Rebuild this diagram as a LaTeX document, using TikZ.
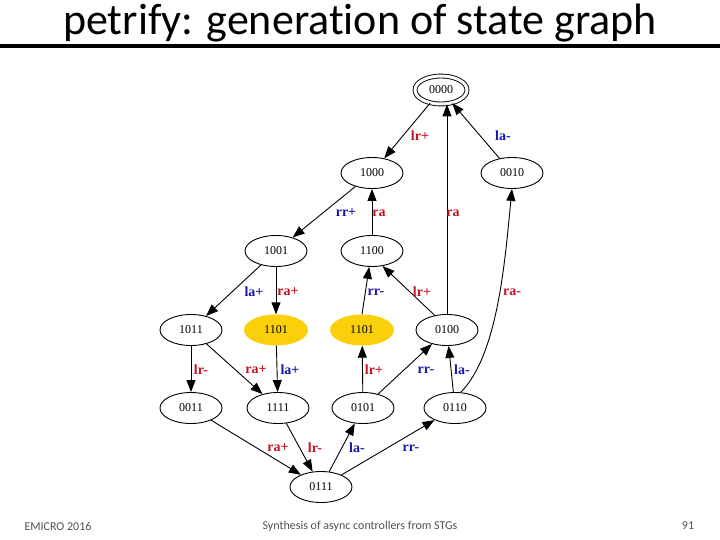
\documentclass[tikz,border=0pt]{standalone}
\usepackage{fontspec}
\setmainfont{Liberation Serif}
\newfontfamily\slidefont[Ligatures=NoCommon]{Carlito}
\usetikzlibrary{arrows.meta,shapes.geometric}
\definecolor{labred}{RGB}{196,18,36}
\definecolor{labblue}{RGB}{24,24,168}
\definecolor{stateyellow}{RGB}{250,208,10}
\definecolor{footgray}{RGB}{80,80,80}
\tikzset{
  state/.style={ellipse,draw,line width=0.9pt,minimum width=62pt,minimum height=31pt,inner sep=0pt,font=\fontsize{12}{13}\selectfont},
  hstate/.style={ellipse,fill=stateyellow,minimum width=64pt,minimum height=31pt,inner sep=0pt,font=\fontsize{12}{13}\selectfont},
  edge/.style={line width=0.9pt,-{Triangle[length=12pt,width=9pt]}},
  rl/.style={text=labred,font=\bfseries\fontsize{14}{14}\selectfont,inner sep=0pt},
  bl/.style={text=labblue,font=\bfseries\fontsize{14}{14}\selectfont,inner sep=0pt},
  foot/.style={text=footgray,font=\slidefont\fontsize{12}{14}\selectfont}
}
\begin{document}
\begin{tikzpicture}[x=1pt,y=-1pt]
\useasboundingbox (0,0) rectangle (720,540);
% title
\node[anchor=base,font=\slidefont\fontsize{44}{48}\selectfont,inner sep=0pt] (title) at (360,35) {petrify: generation of state graph};
\draw[line width=4pt] (0,46) -- (720,46);
% states
\node[state,double,double distance=3pt,minimum width=52pt,minimum height=28pt] (s0000) at (441,90) {0000};
\node[state] (s1000) at (372,173) {1000};
\node[state] (s0010) at (512,173) {0010};
\node[state] (s1001) at (276,251) {1001};
\node[state] (s1100) at (372,251) {1100};
\node[state] (s1011) at (191,330) {1011};
\node[hstate] (s1101a) at (276,330) {1101};
\node[hstate] (s1101b) at (362,330) {1101};
\node[state] (s0100) at (447,330) {0100};
\node[state] (s0011) at (191,408) {0011};
\node[state] (s1111) at (278,408) {1111};
\node[state] (s0101) at (363,408) {0101};
\node[state] (s0110) at (455,408) {0110};
\node[state] (s0111) at (321,487) {0111};
% edges
\draw[edge] (s0000) -- (s1000);
\draw[edge] (s0010) -- (s0000);
\draw[edge] (s0100.north) -- (s0100.north |- s0000.south);
\draw[edge] (s1100) -- (s1000);
\draw[edge] (s1000) -- (s1001);
\draw[edge] (s0110.70) .. controls (498,355) and (505,260) .. (s0010.south);
\draw[edge] (s1001) -- (s1011);
\draw[edge] (s1001) -- (s1101a);
\draw[edge] (s1101b.north) -- (s1100.-100);
\draw[edge] (s0100.130) -- (s1100.-55);
\draw[edge] (s1011) -- (s0011);
\draw[edge] (s1011) -- (s1111);
\draw[edge] (s1101a) -- (s1111);
\draw[edge] (s0101) -- (s1101b);
\draw[edge] (s0101) -- (s0100);
\draw[edge] (s0110) -- (s0100);
\draw[edge] (s0011) -- (s0111);
\draw[edge] (s1111) -- (s0111);
\draw[edge] (s0111) -- (s0101);
\draw[edge] (s0111) -- (s0110);
% labels
\node[rl] (l1) at (420,136) {lr+};
\node[bl] (l2) at (503,136) {la-};
\node[bl] (l3) at (346,213) {rr+};
\node[rl] (l4) at (379,213) {ra};
\node[rl] (l5) at (453,213) {ra};
\node[bl] (l6) at (254,292) {la+};
\node[rl] (l7) at (288,292) {ra+};
\node[bl] (l8) at (376,292) {rr-};
\node[rl] (l9) at (422,292) {lr+};
\node[rl] (l10) at (512,292) {ra-};
\node[rl] (l11) at (201,370) {lr-};
\node[rl] (l12) at (256,370) {ra+};
\node[bl] (l13) at (290,370) {la+};
\node[rl] (l14) at (374,370) {lr+};
\node[bl] (l15) at (426,370) {rr-};
\node[bl] (l16) at (462,370) {la-};
\node[rl] (l17) at (278,448) {ra+};
\node[rl] (l18) at (315,448) {lr-};
\node[bl] (l19) at (357,448) {la-};
\node[bl] (l20) at (411,448) {rr-};
% footer
\node[foot] (f1) at (58,526) {EMICRO 2016};
\node[foot] (f2) at (360,526) {Synthesis of async controllers from STGs};
\node[foot] (f3) at (688,526) {91};
\end{tikzpicture}
\end{document}
